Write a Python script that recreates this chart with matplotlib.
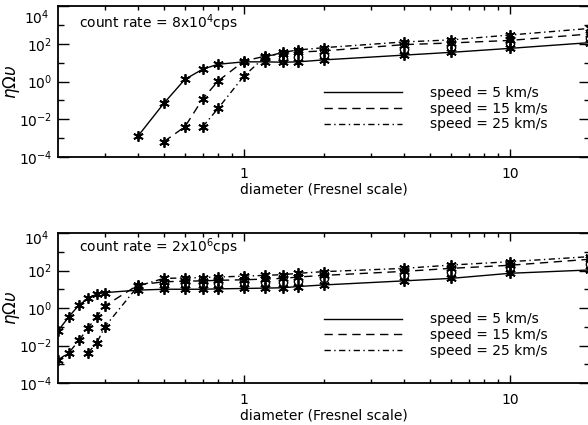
import numpy as np
import matplotlib
matplotlib.use('Agg')
import matplotlib.pyplot as plt
from matplotlib.ticker import FixedLocator, NullFormatter, FixedFormatter
from matplotlib.transforms import blended_transform_factory

# top panel: count rate = 8x10^4 cps
top_x5 = [0.4, 0.5, 0.6, 0.7, 0.8, 1.0, 1.2, 1.4, 1.6, 2.0, 4.0, 6.0, 10.0, 20.0]
top_y5 = [1.3e-3, 0.07, 1.3, 4.5, 8.2, 11, 11, 10.5, 11, 14, 25, 35, 57, 115]
top_x15 = [0.5, 0.6, 0.7, 0.8, 1.0, 1.2, 1.4, 1.6, 2.0, 4.0, 6.0, 10.0, 20.0]
top_y15 = [6.5e-4, 4e-3, 0.12, 1.07, 12, 22, 30, 36, 42, 90, 110, 150, 330]
top_x25 = [0.7, 0.8, 1.0, 1.2, 1.4, 1.6, 2.0, 4.0, 6.0, 10.0, 20.0]
top_y25 = [4e-3, 0.038, 1.95, 20, 35, 47, 62, 125, 160, 290, 650]
top_xo = [1.4, 1.6, 2.0, 4.0, 6.0, 10.0, 20.0]
top_yo = [15, 20, 25, 53, 69, 105, 210]

# bottom panel: count rate = 2x10^6 cps
bot_x5 = [0.2, 0.22, 0.24, 0.26, 0.28, 0.3, 0.4, 0.5, 0.6, 0.7, 0.8, 1.0, 1.2, 1.4, 1.6, 2.0, 4.0, 6.0, 10.0, 20.0]
bot_y5 = [0.06, 0.35, 1.45, 3.3, 5.6, 6.6, 9, 10, 10, 10, 10.5, 11, 11.5, 12, 14, 17, 28, 38, 71, 107]
bot_x15 = [0.2, 0.22, 0.24, 0.26, 0.28, 0.3, 0.4, 0.5, 0.6, 0.7, 0.8, 1.0, 1.2, 1.4, 1.6, 2.0, 4.0, 6.0, 10.0, 20.0]
bot_y15 = [1.7e-3, 4.2e-3, 0.019, 0.09, 0.35, 1.3, 17, 25, 27, 28, 30, 32, 35, 38, 45, 55, 90, 130, 190, 400]
bot_x25 = [0.26, 0.28, 0.3, 0.4, 0.5, 0.6, 0.7, 0.8, 1.0, 1.2, 1.4, 1.6, 2.0, 4.0, 6.0, 10.0, 20.0]
bot_y25 = [4.2e-3, 0.014, 0.1, 15, 38, 40, 42, 45, 50, 55, 60, 71, 87, 130, 195, 295, 550]
bot_xo = [0.5, 0.6, 0.7, 0.8, 1.0, 1.2, 1.4, 1.6, 2.0, 4.0, 6.0, 10.0, 20.0]
bot_yo = [21, 21, 22, 22, 23, 24, 25, 27, 38, 58, 80, 160, 220]

speeds = ['speed = 5 km/s', 'speed = 15 km/s', 'speed = 25 km/s']
rates = ['count rate = 8x10$^4$cps', 'count rate = 2x10$^6$cps']
ytick_vals = [1e-4, 1e-2, 1, 1e2]
ytick_txt = ['10$^{-4}$', '10$^{-2}$', '10$^0$', '10$^2$']

plt.rcParams['font.family'] = ['DejaVu Sans']
plt.rcParams['font.size'] = 10
plt.rcParams['mathtext.fontset'] = 'dejavusans'

ast = (6, 2, 0)   # asterisk marker
ms = 7.5

fig = plt.figure(figsize=(5.88, 4.25), dpi=100)
ax1 = fig.add_axes([58/588, (425-157)/425, 532/588, 151/425])
ax2 = fig.add_axes([58/588, (425-383)/425, 532/588, 150/425])

panels = [
    (ax1, top_x5, top_y5, top_x15, top_y15, top_x25, top_y25, top_xo, top_yo, rates[0], 0.888, -0.05),
    (ax2, bot_x5, bot_y5, bot_x15, bot_y15, bot_x25, bot_y25, bot_xo, bot_yo, rates[1], 0.905, -0.008),
]

for ax, x5, y5, x15, y15, x25, y25, xo, yo, rate, ry, top_off in panels:
    l1, = ax.plot(x5, y5, 'k-', lw=1, label=speeds[0])
    l2, = ax.plot(x15, y15, 'k--', lw=1, dashes=(6, 4), label=speeds[1])
    l3, = ax.plot(x25, y25, 'k-.', lw=1, dashes=(4.5, 2.5, 1, 2.5), label=speeds[2])
    ax.plot(x5, y5, ls='none', marker=ast, ms=ms, mew=1.3, color='k')
    ax.plot(x15, y15, ls='none', marker=ast, ms=ms, mew=1.3, color='k')
    ax.plot(x25, y25, ls='none', marker=ast, ms=ms, mew=1.3, color='k')
    ax.plot(xo, yo, ls='none', marker='o', ms=6, mew=1, mfc='none', color='k')

    ax.set_xscale('log')
    ax.set_yscale('log')
    ax.set_xlim(0.2, 20)
    ax.set_ylim(1e-4, 1e4)

    ax.yaxis.set_major_locator(FixedLocator(ytick_vals + [1e4]))
    ax.yaxis.set_minor_locator(FixedLocator([1e-3, 1e-1, 1e1, 1e3]))
    ax.yaxis.set_major_formatter(FixedFormatter(ytick_txt + ['']))
    ax.yaxis.set_minor_formatter(NullFormatter())
    ax.xaxis.set_major_locator(FixedLocator([1, 10]))
    ax.xaxis.set_major_formatter(FixedFormatter(['1', '10']))
    ax.xaxis.set_minor_locator(FixedLocator([0.3, 0.4, 0.5, 0.6, 0.7, 0.8, 0.9,
                                             2, 3, 4, 5, 6, 7, 8, 9, 20]))
    ax.xaxis.set_minor_formatter(NullFormatter())

    # top label sits lower than its tick, as in the original
    tr = blended_transform_factory(ax.transAxes, ax.transAxes)
    ax.text(-0.0155, 1.0 + top_off + 0.035, '10$^4$', transform=tr, ha='right', va='top')

    ax.tick_params(which='both', direction='in', top=True, right=True, width=1, colors='k')
    ax.tick_params(axis='y', which='major', length=8, pad=4)
    ax.tick_params(axis='y', which='minor', length=4)
    ax.tick_params(axis='x', which='major', length=6, pad=7)
    ax.tick_params(axis='x', which='minor', length=3)
    for s in ax.spines.values():
        s.set_linewidth(1.3)

    ax.set_xlabel('diameter (Fresnel scale)', labelpad=1)
    ax.set_ylabel(r'$\eta\Omega\upsilon$', fontsize=12)
    ax.yaxis.set_label_coords(-0.068, 0.5)
    ax.text(0.04, ry, rate, transform=ax.transAxes, fontsize=10, va='center')

    ax.legend(handles=[l1, l2, l3], loc='upper left', bbox_to_anchor=(0.5, 0.47),
              frameon=False, handlelength=5.6, handletextpad=2.0, labelspacing=0.12,
              borderpad=0, borderaxespad=0, fontsize=10)

fig.savefig('out.png', dpi=100)
